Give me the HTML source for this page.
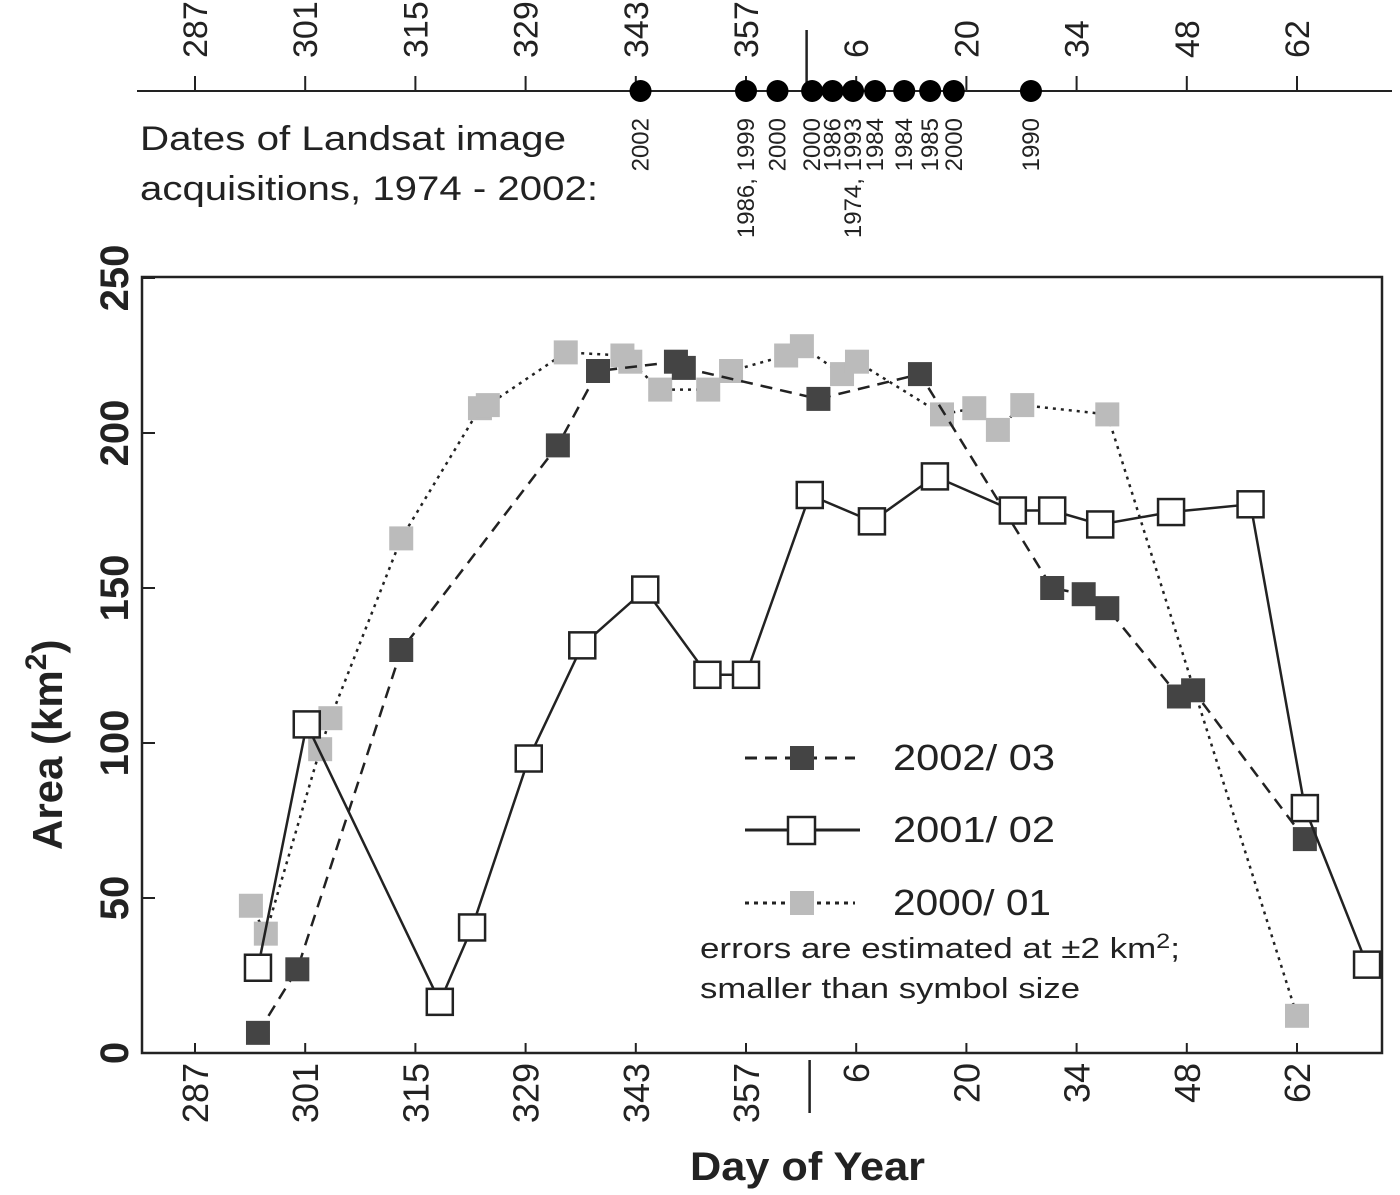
<!DOCTYPE html>
<html><head><meta charset="utf-8"><style>
html,body{margin:0;padding:0;background:#fff;}
svg{display:block;font-family:"Liberation Sans",sans-serif;}
</style></head><body>
<svg id="chart" width="1400" height="1195" viewBox="0 0 1400 1195">
<rect x="142" y="277" width="1240" height="776" fill="none" stroke="#222" stroke-width="2.5"/>
<g id="g-top"></g>
<g id="g-axes"></g>
<g id="g-series"></g>
<text x="140" y="150" font-size="34" textLength="426" lengthAdjust="spacingAndGlyphs" fill="#222">Dates of Landsat image</text>
<text x="140" y="200" font-size="34" textLength="458" lengthAdjust="spacingAndGlyphs" fill="#222">acquisitions, 1974 - 2002:</text>
<text x="690" y="1180" font-size="40" font-weight="bold" textLength="235" lengthAdjust="spacingAndGlyphs" fill="#222">Day of Year</text>
<text transform="translate(62,850) rotate(-90)" font-size="42" font-weight="bold" fill="#222">Area (km<tspan font-size="30" dy="-16">2</tspan><tspan dy="16">)</tspan></text>
<g>
<line x1="745" y1="758" x2="855" y2="758" stroke="#222" stroke-width="3" stroke-dasharray="12,8"/>
<rect x="790" y="746" width="24" height="24" fill="#444"/>
<text x="893" y="770" font-size="36" textLength="162" lengthAdjust="spacingAndGlyphs" fill="#222">2002/ 03</text>
<line x1="745" y1="830" x2="860" y2="830" stroke="#222" stroke-width="3"/>
<rect x="788" y="817" width="27" height="27" fill="#fff" stroke="#222" stroke-width="2.5"/>
<text x="893" y="842" font-size="36" textLength="162" lengthAdjust="spacingAndGlyphs" fill="#222">2001/ 02</text>
<line x1="745" y1="903" x2="855" y2="903" stroke="#222" stroke-width="3" stroke-dasharray="4,5"/>
<rect x="790" y="891" width="24" height="24" fill="#bbb"/>
<text x="893" y="915" font-size="36" textLength="158" lengthAdjust="spacingAndGlyphs" fill="#222">2000/ 01</text>
<text x="700" y="958" font-size="29" textLength="480" lengthAdjust="spacingAndGlyphs" fill="#222">errors are estimated at ±2 km<tspan font-size="21" dy="-10">2</tspan><tspan dy="10">;</tspan></text>
<text x="700" y="998" font-size="29" textLength="380" lengthAdjust="spacingAndGlyphs" fill="#222">smaller than symbol size</text>
</g>
</svg>
<script>
const xTicks=[287,301,315,329,343,357,371,385,399,413,427];
const xTickLabels=["287","301","315","329","343","357","6","20","34","48","62"];
const yTicks=[0,50,100,150,200,250];
const days2002=[295.0,300.0,313.2,333.1,338.2,348.1,349.1,366.2,379.1,395.9,399.9,402.9,412.0,413.8,428.0];
const vals2002=[6.5,27,130,196,220,223,221,211,219,150,148,143.5,115,117,69];
const days2001=[295.0,301.2,318.1,322.2,329.4,336.2,344.2,352.1,357.0,365.1,373.0,381.0,390.9,395.9,402.0,411.0,421.1,428.0,435.9];
const vals2001=[27.5,106,16.5,40.5,95,131.5,149.5,122,122,180,171.5,186,175,175,170.5,174.5,177,79,28.5];
const days2000=[294.1,296.0,302.9,304.2,313.2,323.2,324.2,334.1,341.3,342.3,346.1,352.2,355.1,362.1,364.1,369.2,371.1,381.9,386.0,389.0,392.1,402.9,427.0];
const vals2000=[47.5,38.5,98,108,166,208,209,226,225,223,214,214,220,225,228,219,223,206,208,201,209,206,12];
const landsatDays=[343.6,357.0,361.0,365.4,368.0,370.6,373.4,377.1,380.4,383.4,393.2];
const landsatLabels=["2002","1986, 1999","2000","2000","1986","1974, 1993","1984","1984","1985","2000","1990"];
const yearBreak=364.7;

const NS="http://www.w3.org/2000/svg";
const sx=d=>195+(d-287)*(1297-195)/(427-287);
const sy=v=>1053-v*(1053-278)/250;
function mk(tag,attrs,parent,txt){const e=document.createElementNS(NS,tag);for(const k in attrs)e.setAttribute(k,attrs[k]);if(txt!==undefined)e.textContent=txt;parent.appendChild(e);return e;}
const gA=document.getElementById('g-axes'),gT=document.getElementById('g-top'),gS=document.getElementById('g-series');

xTicks.forEach((d,i)=>{
  const x=sx(d);
  const t=mk('line',{x1:x,y1:1053,x2:x,y2:1043,stroke:'#222','stroke-width':2},gA);
  
  
  const l=mk('text',{transform:`translate(${x+13},1063) rotate(-90)`,'font-size':36,'text-anchor':'end',fill:'#222'},gA,xTickLabels[i]);
  
  
  const tt=mk('line',{x1:x,y1:91,x2:x,y2:76,stroke:'#222','stroke-width':2},gT);
  
  
  const tl=mk('text',{transform:`translate(${x+12},58) rotate(-90)`,'font-size':34,'text-anchor':'start',fill:'#222'},gT,xTickLabels[i]);
  
  
});
const br=mk('line',{x1:sx(yearBreak)+3,y1:1060,x2:sx(yearBreak)+3,y2:1113,stroke:'#222','stroke-width':2.5},gA);


yTicks.forEach(v=>{
  const y=sy(v);
  const t=mk('line',{x1:142,y1:y,x2:155,y2:y,stroke:'#222','stroke-width':2},gA);
  
  
  const l=mk('text',{transform:`translate(128,${y}) rotate(-90)`,'font-size':40,'font-weight':'bold','text-anchor':'middle',fill:'#222'},gA,String(v));
  
  
});

const al=mk('line',{x1:137,y1:91,x2:1392,y2:91,stroke:'#222','stroke-width':2},gT);


const tb=mk('line',{x1:sx(yearBreak),y1:30,x2:sx(yearBreak),y2:91,stroke:'#222','stroke-width':2.5},gT);


landsatDays.forEach((d,i)=>{
  const x=sx(d);
  const c=mk('circle',{cx:x,cy:91,r:11,fill:'#000'},gT);
  
  
  const l=mk('text',{transform:`translate(${x+8},118) rotate(-90)`,'font-size':24,'text-anchor':'end',fill:'#222'},gT,landsatLabels[i]);
  
  
});

function series(days,vals,name,lineAttrs,mAttrs,size){
  const pts=days.map((d,i)=>[sx(d),sy(vals[i])]);
  const pl=mk('polyline',Object.assign({points:pts.map(p=>p.join(',')).join(' '),fill:'none','stroke-width':2.5},lineAttrs),gS);
  
  
  pts.forEach(p=>{
    const r=mk('rect',Object.assign({x:p[0]-size/2,y:p[1]-size/2,width:size,height:size},mAttrs),gS);
    
    
  });
}
series(days2000,vals2000,'series-2000-01',{stroke:'#222','stroke-dasharray':'3,5'},{fill:'#bbb'},24);
series(days2002,vals2002,'series-2002-03',{stroke:'#222','stroke-dasharray':'12,8'},{fill:'#444'},24);
series(days2001,vals2001,'series-2001-02',{stroke:'#222'},{fill:'#fff',stroke:'#222','stroke-width':2.5},26);
</script>
</body></html>
